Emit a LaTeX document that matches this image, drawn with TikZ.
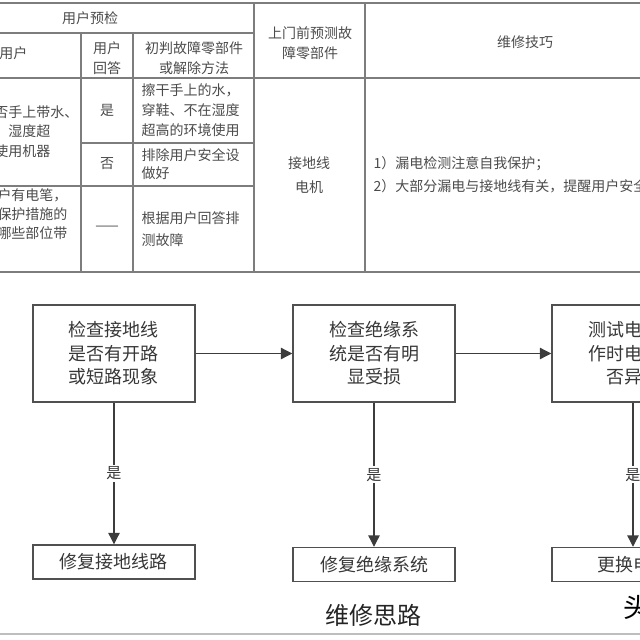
\documentclass[tikz,border=0pt]{standalone}
\usepackage{fontspec}
\setmainfont{Noto Sans CJK SC}
\usetikzlibrary{arrows.meta}

\tikzset{every picture/.style={line width=0.75pt}}
\tikzset{
	grid/.style={draw={rgb, 255:red, 125; green, 125; blue, 125 }, line width=1pt},
	cell/.style={inner sep=0pt, text={rgb, 255:red, 75; green, 75; blue, 75 }, font=\fontsize{10.5}{15}\selectfont},
	stepbox/.style={draw={rgb, 255:red, 80; green, 80; blue, 80 }, line width=1.1pt, align=center, inner sep=0pt,
		minimum width=121.5pt, minimum height=72.75pt, text={rgb, 255:red, 55; green, 55; blue, 55 }, font=\fontsize{13.5}{17.6}\selectfont},
	fixbox/.style={stepbox, minimum height=25.5pt},
	flow/.style={draw={rgb, 255:red, 60; green, 60; blue, 60 }, line width=0.9pt, -{Triangle[length=8.5pt,width=8.5pt]}},
	yeslbl/.style={fill=white, inner sep=1.5pt, text={rgb, 255:red, 55; green, 55; blue, 55 }, font=\fontsize{11.3}{13}\selectfont}
}

\begin{document}
\begin{tikzpicture}[x=0.75pt,y=0.75pt,yscale=-1,xscale=1]
	\useasboundingbox (0,0) rectangle (640,640);
	\clip (0,0) rectangle (640,640);

	%Table: rules
	\draw [grid] (0,3) -- (640,3) ;
	\draw [grid] (0,33) -- (254,33) ;
	\draw [grid] (0,78) -- (640,78) ;
	\draw [grid] (81,143) -- (254,143) ;
	\draw [grid] (0,186) -- (254,186) ;
	\draw [grid] (0,272) -- (640,272) ;
	\draw [grid] (81,33) -- (81,272) ;
	\draw [grid] (133,33) -- (133,272) ;
	\draw [grid] (254,3) -- (254,272) ;
	\draw [grid] (365,3) -- (365,272) ;

	% Text Node
	\draw (90,18) node (hdcheck) [cell] {用户预检};
	% Text Node
	\draw (-1,53) node (hduser) [cell, anchor=west] {用户};
	% Text Node
	\draw (107,58) node (hdanswer) [cell, align=center] {用户\\回答};
	% Text Node
	\draw (194,58) node (hdpart) [cell, align=center] {初判故障零部件\\或解除方法};
	% Text Node
	\draw (310,43) node (hdpredict) [cell, align=center] {上门前预测故\\障零部件};
	% Text Node
	\draw (525,42) node (hdskill) [cell] {维修技巧};

	% Text Node
	\draw (-6,131.5) node (askwet) [cell, anchor=west, align=left, font=\fontsize{10.5}{14.6}\selectfont] {否手上带水、\\、湿度超\\使用机器};
	% Text Node
	\draw (-3,214) node (askpen) [cell, anchor=west, align=left, font=\fontsize{10.5}{14.3}\selectfont] {户有电笔，\\保护措施的\\哪些部位带};
	% Text Node
	\draw (107,110) node (ansyes) [cell] {是};
	% Text Node
	\draw (107,164) node (ansno) [cell] {否};
	% Text Node
	\draw (107,228) node (ansnone) [cell] {——};
	% Text Node
	\draw (141,110) node (dowipe) [cell, anchor=west, align=left] {擦干手上的水，\\穿鞋、不在湿度\\超高的环境使用};
	% Text Node
	\draw (141,164) node (dosafe) [cell, anchor=west, align=left, font=\fontsize{10.5}{13.8}\selectfont] {排除用户安全设\\做好};
	% Text Node
	\draw (141,229) node (dojudge) [cell, anchor=west, align=left, font=\fontsize{10.5}{16}\selectfont] {根据用户回答排\\测故障};
	% Text Node
	\draw (309,175) node (predpart) [cell, align=center, font=\fontsize{10.5}{17.5}\selectfont] {接地线\\电机};
	% Text Node
	\draw (373,175) node (skilltext) [cell, anchor=west, align=left, font=\fontsize{10.5}{17.5}\selectfont] {1）漏电检测注意自我保护；\\2）大部分漏电与接地线有关，提醒用户安全};

	%Flow: steps
	\node (chkground) [stepbox] at (114,353.5) {检查接地线\\是否有开路\\或短路现象};
	\node (chkinsul) [stepbox] at (374,353.5) {检查绝缘系\\统是否有明\\显受损};
	\node (chkmotor) [stepbox] at (633,353.5) {测试电机工\\作时电流是\\否异常};
	\node (fixground) [fixbox] at (114,562) {修复接地线路};
	\node (fixinsul) [fixbox] at (374,564.5) {修复绝缘系统};
	\node (fixmotor) [fixbox] at (633,564.5) {更换电机};

	\draw [flow] (chkground) -- (chkinsul) ;
	\draw [flow] (chkinsul) -- (chkmotor) ;
	\draw [flow] (chkground) -- node [yeslbl] (yesground) {是} (fixground) ;
	\draw [flow] (chkinsul) -- node [yeslbl] (yesinsul) {是} (fixinsul) ;
	\draw [flow] (chkmotor) -- node [yeslbl] (yesmotor) {是} (fixmotor) ;

	% Text Node
	\draw (373,615) node (caption) [inner sep=0pt, text={rgb, 255:red, 35; green, 35; blue, 35 }, font=\fontsize{18}{20}\selectfont] {维修思路};
	% Text Node
	\draw (623,607) node (mark) [anchor=west, inner sep=0pt, font=\fontsize{20}{22}\selectfont] {头};

	%Bottom rule
	\draw [draw={rgb, 255:red, 190; green, 190; blue, 190 }, line width=1.2pt] (0,634) -- (640,634) ;

\end{tikzpicture}
\end{document}
